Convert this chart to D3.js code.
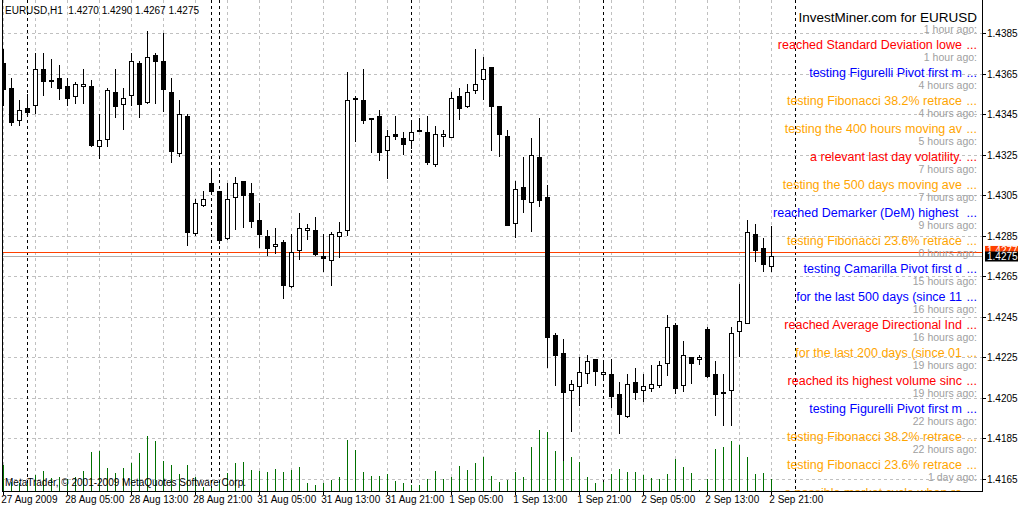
<!DOCTYPE html>
<html><head><meta charset="utf-8">
<script src="https://cdn.jsdelivr.net/npm/d3@7/dist/d3.min.js"></script>
<style>body{margin:0;background:#fff}svg{display:block}text{font-family:"Liberation Sans",Arial,sans-serif}</style>
</head><body><svg id="c" width="1018" height="508"></svg>
<script>
const opens=[1.4370,1.4358,1.4342,1.4348,1.4349,1.4367,1.4362,1.4363,1.4359,1.4354,1.4359,1.4359,1.4329,1.4333,1.4356,1.4350,1.4354,1.4370,1.4351,1.4374,1.4371,1.4356,1.4326,1.4344,1.4286,1.4300,1.4311,1.4307,1.4284,1.4304,1.4312,1.4306,1.4293,1.4285,1.4280,1.4282,1.4260,1.4278,1.4288,1.4288,1.4275,1.4273,1.4285,1.4288,1.4353,1.4352,1.4343,1.4344,1.4327,1.4335,1.4333,1.4332,1.4337,1.4336,1.4320,1.4334,1.4334,1.4354,1.4349,1.4357,1.4362,1.4368,1.4349,1.4334,1.4291,1.4309,1.4302,1.4324,1.4304,1.4236,1.4227,1.4209,1.4211,1.4217,1.4224,1.4217,1.4217,1.4207,1.4196,1.4213,1.4209,1.4210,1.4211,1.4222,1.4241,1.4211,1.4225,1.4224,1.4239,1.4217,1.4208,1.4209,1.4238,1.4242,1.4286,1.4279,1.4270];
const highs=[1.4377,1.4363,1.4352,1.4355,1.4375,1.4375,1.4372,1.4369,1.4363,1.4361,1.4367,1.4362,1.4345,1.4358,1.4367,1.4358,1.4375,1.4371,1.4386,1.4375,1.4385,1.4363,1.4352,1.4345,1.4303,1.4307,1.4317,1.4307,1.4311,1.4314,1.4312,1.4311,1.4301,1.4288,1.4289,1.4283,1.4286,1.4296,1.4291,1.4294,1.4286,1.4287,1.4292,1.4366,1.4354,1.4367,1.4343,1.4347,1.4337,1.4344,1.4336,1.4341,1.4343,1.4344,1.4339,1.4337,1.4356,1.4358,1.4360,1.4377,1.4373,1.4368,1.4349,1.4337,1.4312,1.4324,1.4333,1.4343,1.4310,1.4237,1.4234,1.4214,1.4225,1.4226,1.4224,1.4223,1.4224,1.4213,1.4217,1.4220,1.4217,1.4221,1.4223,1.4246,1.4242,1.4233,1.4225,1.4226,1.4240,1.4223,1.4217,1.4240,1.4261,1.4293,1.4291,1.4284,1.4290];
const lows=[1.4349,1.4339,1.4339,1.4345,1.4345,1.4354,1.4358,1.4352,1.4349,1.4350,1.4350,1.4329,1.4323,1.4329,1.4343,1.4337,1.4349,1.4343,1.4350,1.4350,1.4346,1.4321,1.4324,1.4280,1.4285,1.4299,1.4305,1.4281,1.4283,1.4288,1.4289,1.4289,1.4279,1.4275,1.4276,1.4254,1.4259,1.4273,1.4283,1.4275,1.4267,1.4260,1.4274,1.4285,1.4331,1.4340,1.4326,1.4322,1.4313,1.4332,1.4325,1.4328,1.4336,1.4320,1.4319,1.4329,1.4333,1.4342,1.4348,1.4355,1.4352,1.4327,1.4324,1.4290,1.4284,1.4296,1.4287,1.4299,1.4220,1.4211,1.4174,1.4188,1.4201,1.4212,1.4211,1.4215,1.4200,1.4187,1.4195,1.4204,1.4203,1.4208,1.4210,1.4216,1.4207,1.4208,1.4212,1.4221,1.4215,1.4196,1.4191,1.4191,1.4225,1.4242,1.4272,1.4267,1.4267];
const closes=[1.4357,1.4341,1.4347,1.4346,1.4367,1.4361,1.4362,1.4358,1.4353,1.4360,1.4360,1.4330,1.4332,1.4357,1.4349,1.4353,1.4371,1.4350,1.4373,1.4371,1.4357,1.4327,1.4345,1.4287,1.4301,1.4303,1.4307,1.4283,1.4303,1.4311,1.4305,1.4292,1.4286,1.4279,1.4281,1.4261,1.4277,1.4289,1.4289,1.4276,1.4274,1.4286,1.4287,1.4352,1.4353,1.4342,1.4343,1.4326,1.4334,1.4334,1.4330,1.4336,1.4337,1.4321,1.4335,1.4335,1.4353,1.4348,1.4356,1.4360,1.4367,1.4349,1.4335,1.4290,1.4308,1.4303,1.4325,1.4303,1.4235,1.4226,1.4208,1.4212,1.4218,1.4223,1.4218,1.4218,1.4206,1.4197,1.4212,1.4208,1.4211,1.4212,1.4221,1.4240,1.4210,1.4226,1.4222,1.4225,1.4216,1.4207,1.4208,1.4237,1.4243,1.4287,1.4278,1.4271,1.4275];
const volumes=[2600,900,800,800,1600,2000,1300,1400,1200,1400,2000,3900,4000,2300,1800,2300,2800,3800,5500,5000,3000,2600,1700,2600,1400,400,300,800,1800,2800,2900,2100,2000,1900,2200,1900,2100,2400,800,600,800,1100,1400,5100,4100,1900,1500,1500,1700,1000,800,600,600,1200,2000,1200,1400,2500,2100,2800,3400,1500,900,1100,1900,1400,4400,6100,5900,4000,3000,3400,2900,1400,800,900,1700,2200,1900,1900,1600,1300,1200,1700,3200,2400,1800,100,1200,4200,4400,5000,4600,3400,1700,1800,1200];
const timeLabels=["27 Aug 2009","28 Aug 05:00","28 Aug 13:00","28 Aug 21:00","31 Aug 05:00","31 Aug 13:00","31 Aug 21:00","1 Sep 05:00","1 Sep 13:00","1 Sep 21:00","2 Sep 05:00","2 Sep 13:00","2 Sep 21:00"];
const priceTicks=[1.4385,1.4365,1.4345,1.4325,1.4305,1.4285,1.4265,1.4245,1.4225,1.4205,1.4185,1.4165];
const daySeparators=[3,26,27,51,75,99];
const askPrice=1.4277, bidPrice=1.4275;
const newsTimes=["1 hour ago:","1 hour ago:","4 hours ago:","4 hours ago:","5 hours ago:","7 hours ago:","7 hours ago:","9 hours ago:","0 hours ago:","15 hours ago:","16 hours ago:","16 hours ago:","19 hours ago:","19 hours ago:","22 hours ago:","22 hours ago:","1 day ago:"];
const newsTexts=["reached Standard Deviation lowe","testing Figurelli Pivot first m","testing Fibonacci 38.2% retrace","testing the 400 hours moving av","a relevant last day volatility.","testing the 500 days moving ave","reached Demarker (DeM) highest ","testing Fibonacci 23.6% retrace","testing Camarilla Pivot first d","for the last 500 days (since 11","reached Average Directional Ind","for the last 200 days (since 01","reached its highest volume sinc","testing Figurelli Pivot first m","testing Fibonacci 38.2% retrace","testing Fibonacci 23.6% retrace","a possible market cycle when re"];
const newsColors=["#ff0000","#0000ff","#ffa500","#ffa500","#ff0000","#ffa500","#0000ff","#ffa500","#0000ff","#0000ff","#ff0000","#ffa500","#ff0000","#0000ff","#ffa500","#ffa500","#ffa500"];

const svg=d3.select("#c");
const L=2,R=982,T=0,B=491;
const x=d3.scaleLinear().domain([0,96]).range([3.3,771.3]);
const y=d3.scaleLinear().domain([1.4165,1.4385]).range([479,33]);
const yv=d3.scaleLinear().domain([0,10000]).range([B,B-100]);
const px=v=>Math.round(v)+0.5;
svg.append("defs").append("clipPath").attr("id","pl").append("rect").attr("x",L).attr("y",T).attr("width",R-L).attr("height",B-T);
const g=svg.append("g").attr("clip-path","url(#pl)");
g.selectAll(".gv").data(d3.range(0,100,4)).join("line").attr("x1",d=>px(x(d))).attr("x2",d=>px(x(d))).attr("y1",T).attr("y2",B).attr("stroke","#c0c0c0").attr("stroke-dasharray","3,3");
g.selectAll(".gh").data(priceTicks).join("line").attr("x1",L).attr("x2",R).attr("y1",d=>px(y(d))).attr("y2",d=>px(y(d))).attr("stroke","#c0c0c0").attr("stroke-dasharray","3,3");
g.selectAll(".ds").data(daySeparators).join("line").attr("x1",d=>px(x(d))).attr("x2",d=>px(x(d))).attr("y1",T).attr("y2",B).attr("stroke","#000").attr("stroke-dasharray","3,3");
g.selectAll(".v").data(volumes).join("line").attr("x1",(d,i)=>px(x(i))).attr("x2",(d,i)=>px(x(i))).attr("y1",B).attr("y2",d=>yv(d)).attr("stroke","#007000");
g.append("line").attr("x1",L).attr("x2",R).attr("y1",px(y(bidPrice))).attr("y2",px(y(bidPrice))).attr("stroke","#b0b0b0");
g.append("line").attr("x1",L).attr("x2",R).attr("y1",px(y(askPrice))).attr("y2",px(y(askPrice))).attr("stroke","#ff4000");
const idx=d3.range(opens.length);
g.selectAll(".w").data(idx).join("line").attr("x1",i=>px(x(i))).attr("x2",i=>px(x(i))).attr("y1",i=>Math.round(y(highs[i]))).attr("y2",i=>Math.round(y(lows[i]))).attr("stroke","#000");
g.selectAll(".b").data(idx).join("rect").attr("x",i=>Math.round(x(i))-2+0.5).attr("width",4)
 .attr("y",i=>Math.round(y(Math.max(opens[i],closes[i])))+0.5).attr("height",i=>Math.max(1,Math.round(Math.abs(y(opens[i])-y(closes[i])))))
 .attr("fill",i=>closes[i]<opens[i]?"#000":"#fff").attr("stroke","#000");
g.append("text").attr("x",5).attr("y",14).attr("font-size",10).attr("xml:space","preserve").text("EURUSD,H1  1.4270 1.4290 1.4267 1.4275");
g.append("text").attr("x",5).attr("y",486).attr("font-size",10).text("MetaTrader, © 2001-2009 MetaQuotes Software Corp.");
g.append("text").attr("x",977).attr("y",22).attr("font-size",13.5).attr("text-anchor","end").text("InvestMiner.com for EURUSD");
const ny=i=>33+i*28;
g.selectAll(".nt").data(newsTimes).join("text").attr("x",977).attr("y",(d,i)=>ny(i)).attr("font-size",10.5).attr("fill","#a0a0a0").attr("text-anchor","end").text(d=>d);
g.selectAll(".nm").data(newsTexts).join("text").attr("x",962).attr("y",(d,i)=>ny(i)+16).attr("font-size",12.5).attr("fill",(d,i)=>newsColors[i]).attr("text-anchor","end").attr("xml:space","preserve").text(d=>d);
g.selectAll(".nd").data(newsTexts).join("text").attr("x",977).attr("y",(d,i)=>ny(i)+16).attr("font-size",12.5).attr("fill",(d,i)=>newsColors[i]).attr("text-anchor","end").text("...");
svg.append("line").attr("x1",L+0.5).attr("x2",L+0.5).attr("y1",0).attr("y2",B).attr("stroke","#000");
svg.append("line").attr("x1",R+0.5).attr("x2",R+0.5).attr("y1",0).attr("y2",B+1).attr("stroke","#000");
svg.append("line").attr("x1",L).attr("x2",R).attr("y1",B+0.5).attr("y2",B+0.5).attr("stroke","#000");
const pa=svg.append("g");
pa.selectAll("line").data(priceTicks).join("line").attr("x1",R).attr("x2",R+4).attr("y1",d=>px(y(d))).attr("y2",d=>px(y(d))).attr("stroke","#000");
pa.selectAll("text").data(priceTicks).join("text").attr("x",R+5).attr("y",d=>y(d)+4).attr("font-size",10).text(d=>d.toFixed(4));
svg.append("rect").attr("x",R+3).attr("y",y(askPrice)-6).attr("width",33).attr("height",10).attr("fill","#ff4000");
svg.append("text").attr("x",R+5).attr("y",y(askPrice)+2).attr("font-size",10).attr("fill","#fff").text(askPrice.toFixed(4));
svg.append("rect").attr("x",R+3).attr("y",y(bidPrice)-4.5).attr("width",33).attr("height",10).attr("fill","#000");
svg.append("text").attr("x",R+5).attr("y",y(bidPrice)+4).attr("font-size",10).attr("fill","#fff").text(bidPrice.toFixed(4));
const ta=svg.append("g");
ta.selectAll("line").data(timeLabels).join("line").attr("x1",(d,i)=>px(x(i*8))).attr("x2",(d,i)=>px(x(i*8))).attr("y1",B).attr("y2",B+4).attr("stroke","#000");
ta.selectAll("text").data(timeLabels).join("text").attr("x",(d,i)=>x(i*8)-2).attr("y",503).attr("font-size",10).text(d=>d);
</script></body></html>
